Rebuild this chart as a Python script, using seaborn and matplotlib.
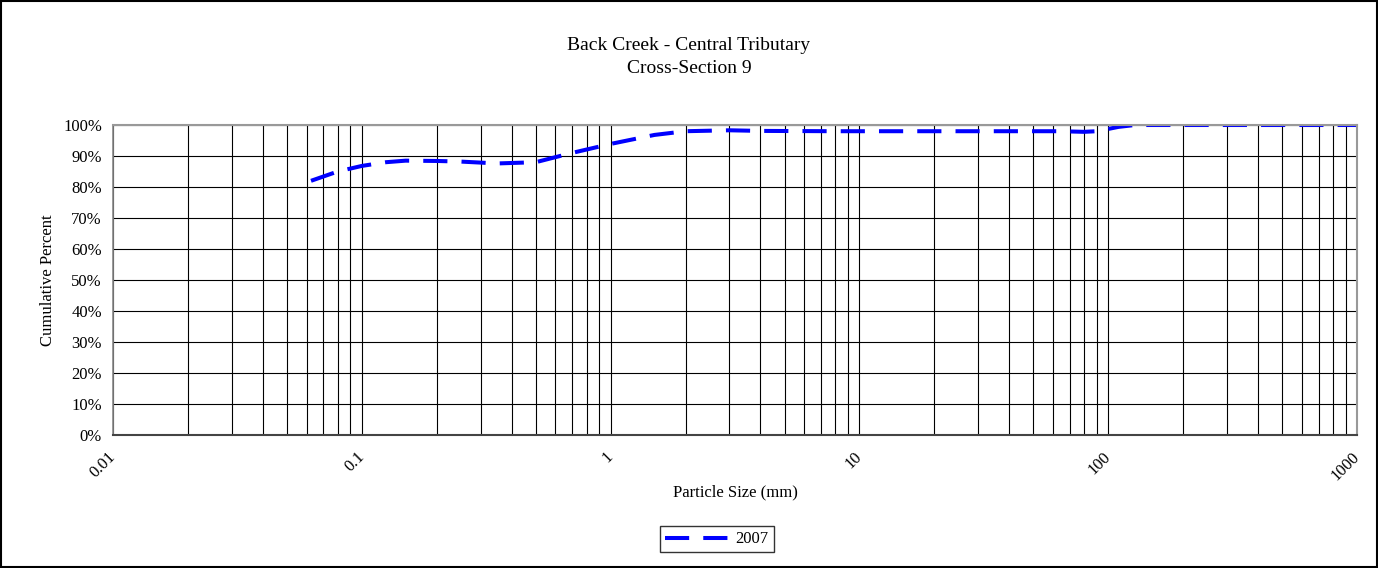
import numpy as np
import pandas as pd
import matplotlib
matplotlib.use("Agg")
import matplotlib.pyplot as plt
import matplotlib.ticker as mticker
from matplotlib.patches import Rectangle
import seaborn as sns

# values
particle_size = [0.0625, 0.08, 0.1, 0.125, 0.15, 0.2, 0.25, 0.35, 0.5, 0.7, 1.0, 1.5,
                 2.0, 3.0, 4.0, 8.0, 16.0, 32.0, 64.0, 80.0, 90.0, 110.0, 128.0, 256.0, 512.0, 1000.0]
cum_pct = [82.0, 85.0, 86.8, 88.0, 88.5, 88.4, 88.2, 87.6, 88.0, 91.0, 93.9, 96.8,
           98.0, 98.3, 98.1, 98.0, 98.0, 98.0, 98.0, 97.8, 98.0, 99.4, 100.0, 100.0, 100.0, 100.0]
series_name = "2007"

data = pd.DataFrame({"size": particle_size, "pct": cum_pct, "year": series_name})

sns.set_style("white")
plt.rcParams["font.family"] = ["Liberation Serif", "DejaVu Serif"]
plt.rcParams["text.color"] = "black"
plt.rcParams["axes.labelcolor"] = "black"
plt.rcParams["xtick.color"] = "black"
plt.rcParams["ytick.color"] = "black"

fig = plt.figure(figsize=(13.78, 5.68), dpi=100)
ax = fig.add_axes([0.082, 0.2342, 0.9028, 0.5457])

sns.lineplot(data=data, x="size", y="pct", hue="year", palette=["#0000FF"],
             linewidth=2.9, ax=ax, legend=True)
ax.lines[0].set_dashes((6, 3.5))

ax.set_xscale("log")
ax.set_xlim(0.01, 1000)
ax.set_ylim(0, 100)
ax.yaxis.set_major_locator(mticker.MultipleLocator(10))
ax.yaxis.set_major_formatter(mticker.FuncFormatter(lambda v, p: f"{v:.0f}%"))
ax.xaxis.set_major_locator(mticker.LogLocator(base=10, numticks=10))
ax.xaxis.set_minor_locator(mticker.LogLocator(base=10, subs=np.arange(2, 10), numticks=20))
ax.xaxis.set_major_formatter(mticker.FuncFormatter(lambda v, p: f"{v:g}"))
ax.xaxis.set_minor_formatter(mticker.NullFormatter())

ax.grid(True, which="major", axis="both", color="black", linewidth=0.8)
ax.grid(True, which="minor", axis="x", color="black", linewidth=0.8)
ax.set_axisbelow(True)

for s in ["top", "right"]:
    ax.spines[s].set_color("#999999")
    ax.spines[s].set_linewidth(1.5)
ax.spines["left"].set_color("#888888")
ax.spines["left"].set_linewidth(1.2)
ax.spines["bottom"].set_color("#444444")
ax.spines["bottom"].set_linewidth(1.5)

ax.tick_params(axis="x", which="major", direction="out", length=5, color="#666666",
               labelsize=12, pad=9)
ax.tick_params(axis="x", which="minor", length=0)
ax.tick_params(axis="y", which="major", length=0, labelsize=12, pad=8)
for lbl in ax.get_xticklabels():
    lbl.set_rotation(45)
    lbl.set_ha("right")
    lbl.set_va("center")
    lbl.set_rotation_mode("anchor")

ax.set_xlabel("Particle Size (mm)", fontsize=12, labelpad=1)
ax.set_ylabel("Cumulative Percent", fontsize=12, labelpad=5)

fig.text(0.5, 0.9, "Back Creek - Central Tributary\nCross-Section 9", ha="center", va="center",
         fontsize=14, linespacing=1.45)

leg = ax.legend(loc="center", bbox_to_anchor=(0.4855, -0.337), frameon=True, fancybox=False,
                fontsize=12, handlelength=4.2, handletextpad=0.0, borderpad=0.3,
                edgecolor="black")
leg.get_frame().set_linewidth(1.0)
leg.get_lines()[0].set_dashes((6, 3.5))

fig.patches.append(Rectangle((0.001, 0.001), 0.998, 0.997, transform=fig.transFigure,
                             fill=False, edgecolor="black", linewidth=1.5))

fig.savefig("out.png", dpi=100)
